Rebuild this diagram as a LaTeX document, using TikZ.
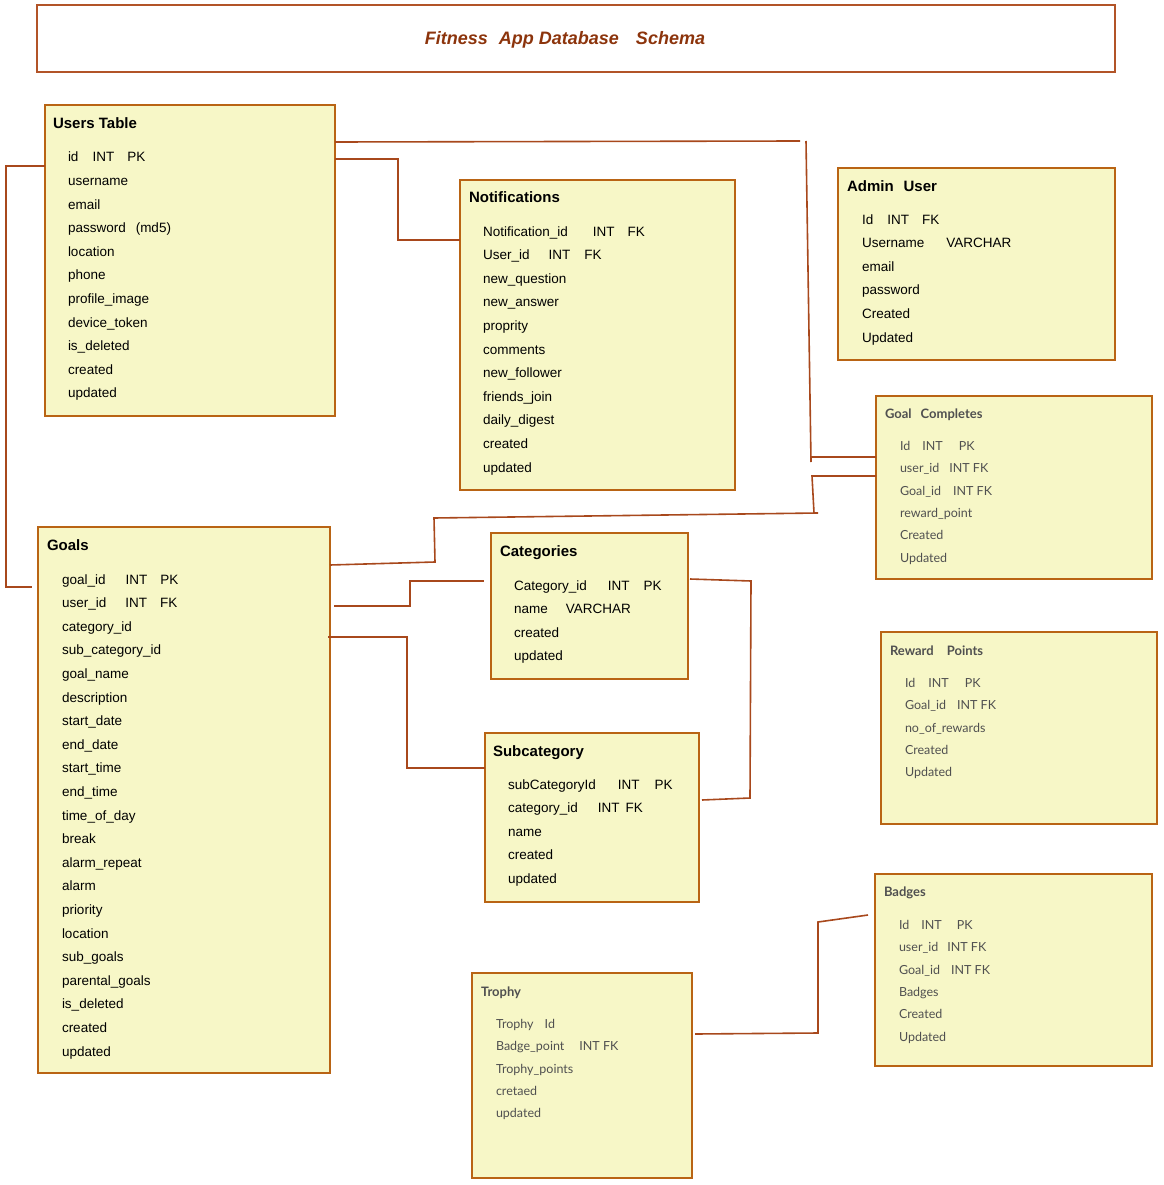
\documentclass[tikz,border=0pt]{standalone}
\usepackage{fontspec}
\setmainfont{Liberation Sans}
\newfontfamily\latofont{Lato}
\usepackage{tikz}
\usetikzlibrary{calc}

\definecolor{boxline}{RGB}{185,100,20}
\definecolor{boxfill}{RGB}{247,247,199}
\definecolor{linkline}{RGB}{168,72,28}
\definecolor{titleline}{RGB}{178,84,40}
\definecolor{titletext}{RGB}{140,52,12}
\definecolor{greytext}{RGB}{80,80,80}

\begin{document}
\begin{tikzpicture}[x=1pt,y=-1pt,inner sep=0pt,outer sep=0pt,
    tbl/.style={draw=boxline, fill=boxfill, line width=2pt, anchor=north west},
    hdr/.style={anchor=base west, font=\fontsize{15}{18}\selectfont\bfseries},
    fld/.style={anchor=base west, font=\fontsize{13.5}{23.6}\selectfont},
    shdr/.style={anchor=base west, text=greytext, font=\latofont\fontsize{13}{16}\selectfont\bfseries},
    sfld/.style={anchor=base west, text=greytext, font=\latofont\fontsize{12.5}{22.3}\selectfont},
    link/.style={draw=linkline, line width=1.6pt}]

    \useasboundingbox (0,0) rectangle (1163,1185);

    % title
    \node[draw=titleline, line width=2pt, anchor=north west,
          minimum width=1078pt, minimum height=67pt] (title) at (37,5) {};
    \node[anchor=base, text=titletext, font=\fontsize{18}{22}\selectfont\bfseries\itshape] (title_txt)
    at ($(title.center)+(-11,6)$)
    {Fitness\hspace{11pt}App Database\hspace{17pt}Schema};

    % users table
    \node[tbl, minimum width=290pt, minimum height=311pt] (users) at (45,105) {};
    \node[hdr] (users_hdr) at ($(users.north west)+(8,24)$) {Users Table};
    \node[fld] (users_fld) at ($(users.north west)+(23,57)$)
    {
    \begin{tabular}[t]{@{}l@{}}
    id\hspace{14pt}INT\hspace{13pt}PK \\
    username \\
    email \\
    password\hspace{10pt}(md5) \\
    location \\
    phone \\
    profile\_image \\
    device\_token \\
    is\_deleted \\
    created \\
    updated \\
    \end{tabular}
    };

    % notifications
    \node[tbl, minimum width=275pt, minimum height=310pt] (notif) at (460,180) {};
    \node[hdr] (notif_hdr) at ($(notif.north west)+(9,23)$) {Notifications};
    \node[fld] (notif_fld) at ($(notif.north west)+(23,56)$)
    {
    \begin{tabular}[t]{@{}l@{}}
    Notification\_id\hspace{25pt}INT\hspace{13pt}FK \\
    User\_id\hspace{19pt}INT\hspace{14pt}FK \\
    new\_question \\
    new\_answer \\
    proprity \\
    comments \\
    new\_follower \\
    friends\_join \\
    daily\_digest \\
    created \\
    updated \\
    \end{tabular}
    };

    % admin user
    \node[tbl, minimum width=277pt, minimum height=192pt] (admin) at (838,168) {};
    \node[hdr] (admin_hdr) at ($(admin.north west)+(9,23)$) {Admin\hspace{10pt}User};
    \node[fld] (admin_fld) at ($(admin.north west)+(24,56)$)
    {
    \begin{tabular}[t]{@{}l@{}}
    Id\hspace{14pt}INT\hspace{13pt}FK \\
    Username\hspace{22pt}VARCHAR \\
    email \\
    password \\
    Created \\
    Updated \\
    \end{tabular}
    };

    % goal completes
    \node[tbl, minimum width=276pt, minimum height=183pt] (gcomp) at (876,396) {};
    \node[shdr] (gcomp_hdr) at ($(gcomp.north west)+(9,22.5)$) {Goal\hspace{9pt}Completes};
    \node[sfld] (gcomp_fld) at ($(gcomp.north west)+(24,54.5)$)
    {
    \begin{tabular}[t]{@{}l@{}}
    Id\hspace{12pt}INT\hspace{16pt}PK \\
    user\_id\hspace{10pt}INT FK \\
    Goal\_id\hspace{12pt}INT FK \\
    reward\_point \\
    Created \\
    Updated \\
    \end{tabular}
    };

    % reward points
    \node[tbl, minimum width=276pt, minimum height=192pt] (reward) at (881,632) {};
    \node[shdr] (reward_hdr) at ($(reward.north west)+(9,23.5)$) {Reward\hspace{13pt}Points};
    \node[sfld] (reward_fld) at ($(reward.north west)+(24,55.5)$)
    {
    \begin{tabular}[t]{@{}l@{}}
    Id\hspace{13pt}INT\hspace{16pt}PK \\
    Goal\_id\hspace{11pt}INT FK \\
    no\_of\_rewards \\
    Created \\
    Updated \\
    \end{tabular}
    };

    % badges
    \node[tbl, minimum width=277pt, minimum height=192pt] (badges) at (875,874) {};
    \node[shdr] (badges_hdr) at ($(badges.north west)+(9,22.5)$) {Badges};
    \node[sfld] (badges_fld) at ($(badges.north west)+(24,55.5)$)
    {
    \begin{tabular}[t]{@{}l@{}}
    Id\hspace{12pt}INT\hspace{15pt}PK \\
    user\_id\hspace{9pt}INT FK \\
    Goal\_id\hspace{11pt}INT FK \\
    Badges \\
    Created \\
    Updated \\
    \end{tabular}
    };

    % trophy
    \node[tbl, minimum width=220pt, minimum height=205pt] (trophy) at (472,973) {};
    \node[shdr] (trophy_hdr) at ($(trophy.north west)+(9,23.5)$) {Trophy};
    \node[sfld] (trophy_fld) at ($(trophy.north west)+(24,55.5)$)
    {
    \begin{tabular}[t]{@{}l@{}}
    Trophy\hspace{11pt}Id \\
    Badge\_point\hspace{15pt}INT FK \\
    Trophy\_points \\
    cretaed \\
    updated \\
    \end{tabular}
    };

    % goals
    \node[tbl, minimum width=292pt, minimum height=546pt] (goals) at (38,527) {};
    \node[hdr] (goals_hdr) at ($(goals.north west)+(9,23)$) {Goals};
    \node[fld] (goals_fld) at ($(goals.north west)+(24,57)$)
    {
    \begin{tabular}[t]{@{}l@{}}
    goal\_id\hspace{20pt}INT\hspace{13pt}PK \\
    user\_id\hspace{19pt}INT\hspace{13pt}FK \\
    category\_id \\
    sub\_category\_id \\
    goal\_name \\
    description \\
    start\_date \\
    end\_date \\
    start\_time \\
    end\_time \\
    time\_of\_day \\
    break \\
    alarm\_repeat \\
    alarm \\
    priority \\
    location \\
    sub\_goals \\
    parental\_goals \\
    is\_deleted \\
    created \\
    updated \\
    \end{tabular}
    };

    % categories
    \node[tbl, minimum width=197pt, minimum height=146pt] (cats) at (491,533) {};
    \node[hdr] (cats_hdr) at ($(cats.north west)+(9,23)$) {Categories};
    \node[fld] (cats_fld) at ($(cats.north west)+(23,57)$)
    {
    \begin{tabular}[t]{@{}l@{}}
    Category\_id\hspace{21pt}INT\hspace{14pt}PK \\
    name\hspace{18pt}VARCHAR \\
    created \\
    updated \\
    \end{tabular}
    };

    % subcategory
    \node[tbl, minimum width=214pt, minimum height=169pt] (subcat) at (485,733) {};
    \node[hdr] (subcat_hdr) at ($(subcat.north west)+(8,23)$) {Subcategory};
    \node[fld] (subcat_fld) at ($(subcat.north west)+(23,56)$)
    {
    \begin{tabular}[t]{@{}l@{}}
    subCategoryId\hspace{22pt}INT\hspace{15pt}PK \\
    category\_id\hspace{20pt}INT\hspace{6pt}FK \\
    name \\
    created \\
    updated \\
    \end{tabular}
    };

    % links
    \draw[link] ($(users.north west)+(0,61)$) -- ++(-39,0) -- ++(0,421)
        -- ($(goals.north west)+(-6,60)$);
    \draw[link] ($(users.north east)+(0,54)$) -- ++(63,0)
        |- ($(notif.north west)+(0,60)$);
    \draw[link] ($(users.north east)+(0,37)$) -- ++(465,-1) ++(6,0) -- ++(5,321) ++(0,-5)
        -- ($(gcomp.north west)+(0,61)$);
    \draw[link] ($(goals.north east)+(0,38)$) -- ++(105,-3) -- ++(-1,-44) -- ++(384,-5)
        ++(-4,0) -- ++(-2,-37) -- ($(gcomp.north west)+(0,80)$);
    \draw[link] ($(goals.north east)+(4,79)$) -- ++(76,0)
        |- ($(cats.north west)+(-7,48)$);
    \draw[link] ($(goals.north east)+(-2,110)$) -- ++(79,0)
        |- ($(subcat.north west)+(0,35)$);
    \draw[link] ($(cats.north east)+(2,46)$) -- ++(61,2) -- ++(-1,217)
        -- ($(subcat.north east)+(3,67)$);
    \draw[link] ($(trophy.north east)+(3,61)$) -- ++(123,-1) -- ++(0,-111)
        -- ($(badges.north west)+(-7,41)$);

\end{tikzpicture}
\end{document}
